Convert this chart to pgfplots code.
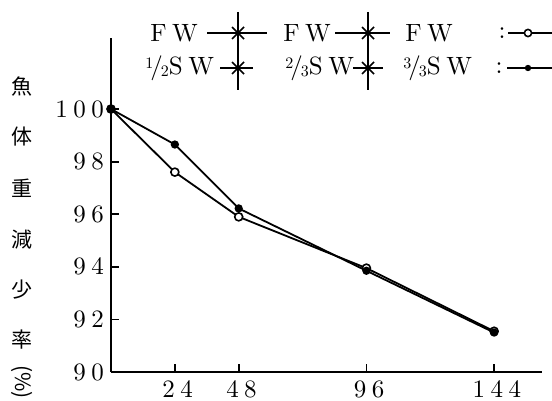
\documentclass[border=0pt]{standalone}
\usepackage{fontspec}
\setmainfont{lmroman10-regular.otf}
\usepackage{pgfplots}
\pgfplotsset{compat=1.18}
\newfontfamily\cjk{Noto Sans CJK JP}
\newcommand\spc{\addfontfeatures{LetterSpace=22}}
\newcommand\frc[2]{\raisebox{0.55ex}{\footnotesize #1}\kern-0.12em/\kern-0.08em\raisebox{-0.25ex}{\footnotesize #2}}
\begin{document}
\begin{tikzpicture}
\useasboundingbox (0,0) rectangle (276pt,-200.5pt);
\begin{axis}[
  at={(55.5pt,-186pt)}, anchor=south west,
  scale only axis, width=215.5pt, height=167pt,
  xmin=0, xmax=162, ymin=90, ymax=102.7,
  axis lines=left, axis line style={-, line width=1.3pt},
  xtick={24,48,96,144}, ytick={90,92,94,96,98,100},
  tick align=inside, major tick length=4pt,
  tick style={line width=0.9pt, black},
  /pgf/number format/assume math mode=true,
  ticklabel style={font=\fontsize{12.5}{14}\selectfont\spc},
  yticklabel style={xshift=0pt},
  xticklabel style={yshift=-1pt, xshift=1.4pt},
  clip=false,
]
\addplot[black, line width=0.9pt, mark=*, mark size=2pt, mark options={fill=white, line width=0.8pt}]
  coordinates {(0,100)(24,97.6)(48,95.9)(96,93.95)(144,91.55)};
\addplot[black, line width=0.9pt, mark=*, mark size=1.6pt, mark options={fill=black}]
  coordinates {(0,100)(24,98.65)(48,96.22)(96,93.85)(144,91.5)};
\end{axis}
% y label (vertical stacked)
\begin{scope}[every node/.style={font=\cjk\fontsize{10.5}{12}\selectfont, inner sep=0pt}]
\node at (11pt,-43.5pt) {魚};
\node at (11pt,-68.5pt) {体};
\node at (11pt,-94pt) {重};
\node at (11pt,-120pt) {減};
\node at (11pt,-145pt) {少};
\node at (11pt,-170pt) {率};
\node[rotate=-90] at (11pt,-191pt) {(\%)};
\end{scope}
% legend
\begin{scope}[every node/.style={font=\fontsize{12.5}{14}\selectfont\spc, inner sep=0pt}]
\node[anchor=west] at (75pt,-16.5pt) {FW};
\node[anchor=west] at (141.5pt,-16.5pt) {FW};
\node[anchor=west] at (202.5pt,-16.5pt) {FW};
\node[anchor=west] at (72.5pt,-34pt) {\frc12SW};
\node[anchor=west] at (142.5pt,-34pt) {\frc23SW};
\node[anchor=west] at (201.5pt,-34pt) {\frc33SW};
\node at (251pt,-16.5pt) {:};
\node at (249.5pt,-34pt) {:};
\end{scope}
\begin{scope}[line width=0.9pt]
\draw (103.5pt,-16.5pt) -- (133.5pt,-16.5pt);
\draw (167.5pt,-16.5pt) -- (195pt,-16.5pt);
\draw (110pt,-34pt) -- (126.5pt,-34pt);
\draw (176.5pt,-34pt) -- (191.5pt,-34pt);
\draw[line width=1.1pt] (119pt,-6pt) -- (119pt,-45pt);
\draw[line width=1.1pt] (184pt,-6pt) -- (184pt,-45pt);
\foreach \x in {119,184} {\foreach \y in {-16.5,-34} {
  \draw[line width=0.8pt] (\x pt-3pt,\y pt-3pt) -- (\x pt+3pt,\y pt+3pt);
  \draw[line width=0.8pt] (\x pt-3pt,\y pt+3pt) -- (\x pt+3pt,\y pt-3pt);
}}
\draw (254pt,-16.5pt) -- (276pt,-16.5pt);
\draw[fill=white, line width=0.8pt] (264pt,-16.5pt) circle (1.8pt);
\draw (253.5pt,-34pt) -- (276pt,-34pt);
\fill (264pt,-34pt) circle (1.6pt);
\end{scope}
\end{tikzpicture}
\end{document}
